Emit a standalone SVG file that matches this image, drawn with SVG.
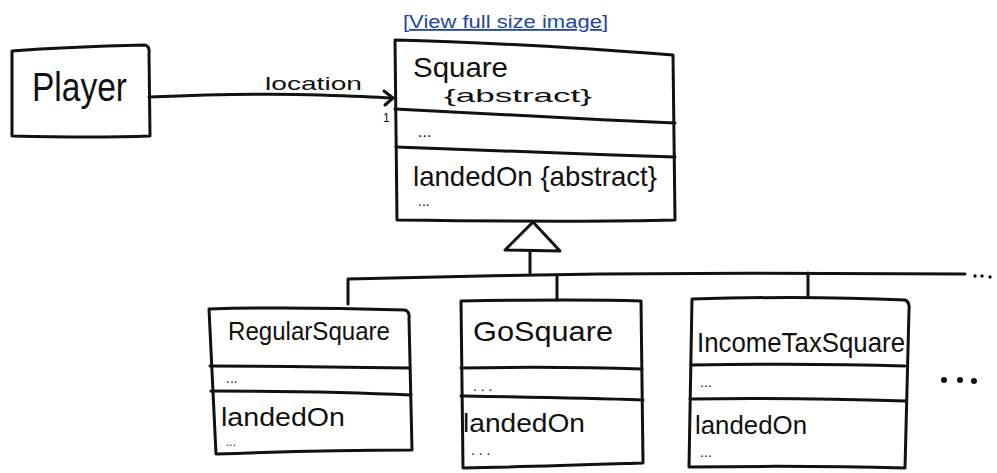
<svg xmlns="http://www.w3.org/2000/svg" width="997" height="473" viewBox="0 0 997 473">
<style>
.box{fill:none;stroke:#111;stroke-width:3;stroke-linejoin:round;stroke-linecap:round}
.ln{fill:none;stroke:#111;stroke-width:3;stroke-linecap:round;stroke-linejoin:round}
.t{font-family:"Liberation Sans","DejaVu Sans",sans-serif;fill:#111}
.dot{fill:#111}
.link{font-family:"Liberation Sans",Arial,sans-serif;font-size:18px;fill:#1f47a0;text-decoration:underline}
</style>
<rect width="997" height="473" fill="#fff"/>
<text class="link" x="403" y="28" textLength="205" lengthAdjust="spacingAndGlyphs">[View full size image]</text>

<g id="connectors">
  <path class="ln" d="M149,97 C200,95 260,93 320,95 C350,96 375,97 392,98"/>
  <path class="ln" d="M384,91 L393,98 L385,105"/>
  <path class="ln" d="M530,252 L530,273"/>
  <path class="ln" d="M348,304 L348,279 C420,277 520,275 600,274 C720,273 850,273 965,274"/>
  <path class="ln" d="M557,275 L557,300"/>
  <path class="ln" d="M808,273 L808,297"/>
  <path class="ln" d="M533,222 L505,250 L560,251 Z" fill="#fff"/>
  <circle class="dot" cx="975" cy="276" r="1.7"/>
  <circle class="dot" cx="982" cy="276" r="1.7"/>
  <circle class="dot" cx="990" cy="277" r="1.7"/>
  <text class="t" x="265" y="90" font-size="19" textLength="97" lengthAdjust="spacingAndGlyphs">location</text>
  <text class="t" x="383" y="122" font-size="12">1</text>
</g>

<g id="player">
  <path class="box" d="M12,51 C50,48 100,46 145,45 Q150,46 149,54 L150,136 C100,138 50,137 12,136 Z"/>
  <text class="t" x="32" y="101" font-size="40" textLength="95" lengthAdjust="spacingAndGlyphs">Player</text>
</g>

<g id="square">
  <path class="box" d="M395,40 C480,42 580,48 673,55 L675,220 C600,222 480,221 397,220 L395,40 Z"/>
  <path class="ln" d="M395,109 C480,113 580,119 675,123"/>
  <path class="ln" d="M396,147 C480,150 580,154 675,157"/>
  <text class="t" x="413" y="77" font-size="28" textLength="95" lengthAdjust="spacingAndGlyphs">Square</text>
  <text class="t" x="444" y="102" font-size="19" textLength="148" lengthAdjust="spacingAndGlyphs">{abstract}</text>
  <text class="t" x="418" y="137" font-size="16">...</text>
  <text class="t" x="413" y="186" font-size="28" textLength="244" lengthAdjust="spacingAndGlyphs">landedOn {abstract}</text>
  <text class="t" x="418" y="206" font-size="14">...</text>
</g>

<g id="regularSquare">
  <path class="box" d="M209,309 C270,307 340,308 405,310 Q410,312 409,318 L412,450 C340,450 270,452 216,454 L209,309 Z"/>
  <path class="ln" d="M210,366 C280,366 350,367 410,368"/>
  <path class="ln" d="M211,391 C280,391 350,392 411,395"/>
  <text class="t" x="228" y="340" font-size="26" textLength="162" lengthAdjust="spacingAndGlyphs">RegularSquare</text>
  <text class="t" x="226" y="383" font-size="14">...</text>
  <text class="t" x="221" y="426" font-size="25" textLength="124" lengthAdjust="spacingAndGlyphs">landedOn</text>
  <text class="t" x="226" y="446" font-size="12">...</text>
</g>

<g id="goSquare">
  <path class="box" d="M461,301 C520,300 580,299 641,301 L643,463 C580,465 520,467 463,468 L461,301 Z"/>
  <path class="ln" d="M461,368 C520,367 580,367 642,369"/>
  <path class="ln" d="M461,396 C520,397 580,398 643,400"/>
  <text class="t" x="473" y="341" font-size="28" textLength="140" lengthAdjust="spacingAndGlyphs">GoSquare</text>
  <text class="t" x="473" y="391" font-size="14">. . .</text>
  <text class="t" x="463" y="432" font-size="26" textLength="122" lengthAdjust="spacingAndGlyphs">landedOn</text>
  <text class="t" x="471" y="455" font-size="14">. . .</text>
</g>

<g id="incomeTaxSquare">
  <path class="box" d="M692,299 C760,297 840,297 905,300 Q910,302 909,310 L905,468 C830,466 760,466 689,467 Z"/>
  <path class="ln" d="M691,365 C760,364 840,364 905,366"/>
  <path class="ln" d="M690,399 C760,398 840,399 906,401"/>
  <text class="t" x="697" y="352" font-size="28" textLength="208" lengthAdjust="spacingAndGlyphs">IncomeTaxSquare</text>
  <text class="t" x="700" y="387" font-size="14">...</text>
  <text class="t" x="695" y="434" font-size="26" textLength="112" lengthAdjust="spacingAndGlyphs">landedOn</text>
  <text class="t" x="700" y="457" font-size="14">...</text>
</g>

<g id="more">
  <circle class="dot" cx="944" cy="380" r="3"/>
  <circle class="dot" cx="960" cy="380" r="3"/>
  <circle class="dot" cx="974" cy="381" r="3"/>
</g>
</svg>
